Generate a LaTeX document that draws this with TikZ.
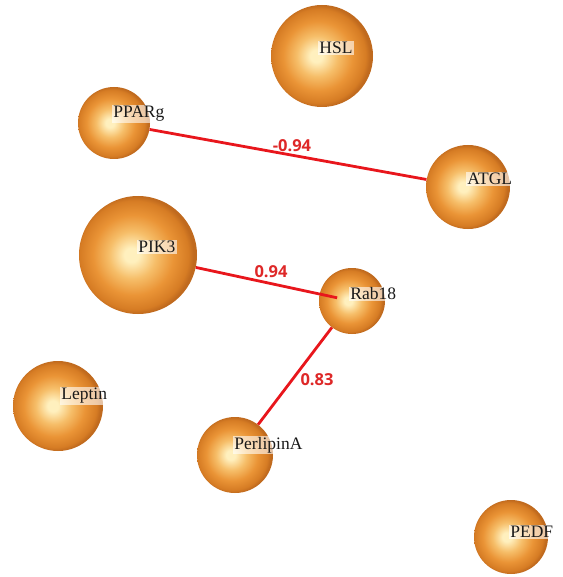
\documentclass[tikz,border=0pt]{standalone}
\usepackage{fontspec}
\setmainfont{Liberation Serif}
\newfontfamily\edgefont{Open Sans}
\definecolor{sphA}{RGB}{255,240,190}
\definecolor{sphB}{RGB}{246,190,105}
\definecolor{sphC}{RGB}{234,148,54}
\definecolor{sphD}{RGB}{214,124,36}
\definecolor{sphE}{RGB}{192,106,30}
\definecolor{edgered}{RGB}{232,22,28}
\definecolor{labred}{RGB}{222,40,40}
\pgfdeclareradialshading{sph}{\pgfpoint{-3bp}{0bp}}{color(0bp)=(sphA); color(3bp)=(sphA); color(10bp)=(sphB); color(17bp)=(sphC); color(23bp)=(sphD); color(25bp)=(sphE); color(50bp)=(sphE)}
\tikzset{
  ball/.style={circle, draw=none, inner sep=0pt, shading=sph, minimum size=#1},
  lab/.style={anchor=west, font=\fontsize{17.5}{17.5}\selectfont, text=black!90, fill=white, fill opacity=0.6, text opacity=1, inner sep=1.2pt},
  edge/.style={draw=edgered, line width=2.8pt},
  elab/.style={font=\edgefont\bfseries\fontsize{16.5}{16.5}\selectfont, text=labred, inner sep=0pt}
}
\begin{document}
\begin{tikzpicture}[x=1pt,y=-1pt]
\useasboundingbox (0,0) rectangle (562,577);
% spheres
\node[ball=102pt] (hsl) at (322,56) {};
\node[ball=72pt] (pparg) at (114,123) {};
\node[ball=84pt] (atgl) at (468,187) {};
\node[ball=118pt] (pik3) at (138,255) {};
\node[ball=66pt] (rab18) at (352,301) {};
\node[ball=90pt] (leptin) at (58,406) {};
\node[ball=76pt] (perlipin) at (235,455) {};
\node[ball=74pt] (pedf) at (511,537) {};
% connectors
\draw[edge] (pparg) -- (atgl);
\draw[edge, shorten >=-18pt] (pik3) -- (rab18);
\draw[edge] (rab18) -- (perlipin);
% edge labels
\node[elab] (e1) at (292,146) {-0.94};
\node[elab] (e2) at (271,272) {0.94};
\node[elab] (e3) at (317,380) {0.83};
% node labels
\node[lab] (hsl-l) at (318,48) {HSL};
\node[lab] (pparg-l) at (112,114) {PPARg};
\node[lab] (atgl-l) at (466,179) {ATGL};
\node[lab] (pik3-l) at (137,247) {PIK3};
\node[lab] (rab18-l) at (349,294) {Rab18};
\node[lab] (leptin-l) at (60,396) {Leptin};
\node[lab] (perlipin-l) at (233,445) {PerlipinA};
\node[lab] (pedf-l) at (509,532) {PEDF};
\end{tikzpicture}
\end{document}
